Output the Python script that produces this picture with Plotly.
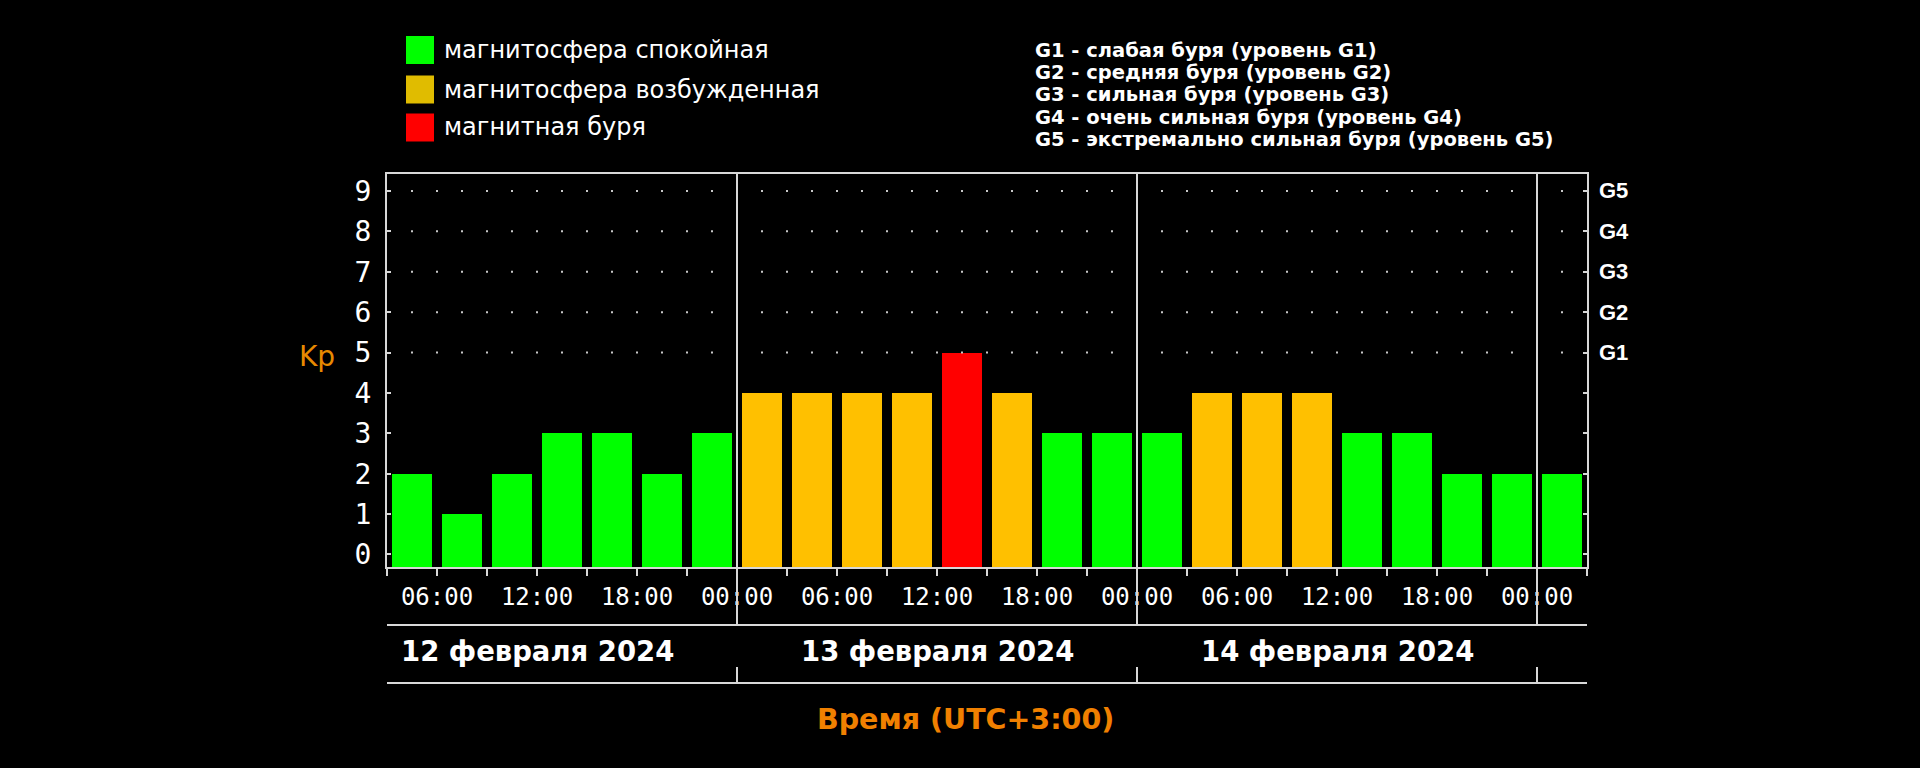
import plotly.graph_objects as go
import pandas as pd
import numpy as np

# ---------------- data ----------------
period_start = [
    "2024-02-12 03:00", "2024-02-12 06:00", "2024-02-12 09:00", "2024-02-12 12:00",
    "2024-02-12 15:00", "2024-02-12 18:00", "2024-02-12 21:00",
    "2024-02-13 00:00", "2024-02-13 03:00", "2024-02-13 06:00", "2024-02-13 09:00",
    "2024-02-13 12:00", "2024-02-13 15:00", "2024-02-13 18:00", "2024-02-13 21:00",
    "2024-02-14 00:00", "2024-02-14 03:00", "2024-02-14 06:00", "2024-02-14 09:00",
    "2024-02-14 12:00", "2024-02-14 15:00", "2024-02-14 18:00", "2024-02-14 21:00",
    "2024-02-15 00:00",
]
kp_values = [2, 1, 2, 3, 3, 2, 3,
             4, 4, 4, 4, 5, 4, 3, 3,
             3, 4, 4, 4, 3, 3, 2, 2,
             2]

day_boundaries = ["2024-02-13 00:00", "2024-02-14 00:00", "2024-02-15 00:00"]
day_label_pos = ["2024-02-12 12:00", "2024-02-13 12:00", "2024-02-14 12:00"]
day_labels = ["12 февраля 2024", "13 февраля 2024", "14 февраля 2024"]

g_levels = [5, 6, 7, 8, 9]
g_labels = ["G1", "G2", "G3", "G4", "G5"]
g_descriptions = [
    "G1 - слабая буря (уровень G1)",
    "G2 - средняя буря (уровень G2)",
    "G3 - сильная буря (уровень G3)",
    "G4 - очень сильная буря (уровень G4)",
    "G5 - экстремально сильная буря (уровень G5)",
]
legend_labels = ["магнитосфера спокойная", "магнитосфера возбужденная", "магнитная буря"]
legend_colors = ["#00FF00", "#E0BC00", "#FF0000"]

# ---------------- styling ----------------
BG = "#000000"
LINE = "#D8D8D8"
GREEN, YELLOW, RED = "#00FF00", "#FFC000", "#FF0000"
ORANGE = "#F08000"
X_START, X_END = "2024-02-12 03:00", "2024-02-15 03:00"
Y_MIN, Y_MAX = -0.31, 9.42

W, H = 1920, 768
L, R, T, B = 387, 333, 174, 201
PH = H - T - B
PW = W - L - R


def py(pix):  # pixel y -> paper y
    return (H - B - pix) / PH


def px(pix):  # pixel x -> paper x
    return (pix - L) / PW


def bar_color(v):
    if v >= 5:
        return RED
    if v == 4:
        return YELLOW
    return GREEN


slot_ms = 3 * 3600 * 1000
bar_w = 0.81 * slot_ms

fig = go.Figure()
fig.add_trace(go.Bar(
    x=period_start,
    y=[v - Y_MIN for v in kp_values],
    base=Y_MIN,
    width=bar_w,
    offset=(slot_ms - bar_w) / 2,
    marker=dict(color=[bar_color(v) for v in kp_values], line=dict(width=0)),
    hoverinfo="skip",
    showlegend=False,
))

# dotted grid above Kp 5
grid_times = pd.date_range(X_START, X_END, freq="90min")[1:-1]
grid_times = [t for t in grid_times if t.strftime("%Y-%m-%d %H:%M") not in day_boundaries]
gx, gy = [], []
for lvl in g_levels:
    for t in grid_times:
        gx.append(t)
        gy.append(lvl)
fig.add_trace(go.Scatter(
    x=gx, y=gy, mode="markers",
    marker=dict(symbol="square", size=2, color="#C8C8C8", line=dict(width=0)),
    hoverinfo="skip", showlegend=False,
))

# x ticks every 3 hours, labels every 6 hours
tick_times = pd.date_range(X_START, X_END, freq="3h")
tick_text = [t.strftime("%H:%M") if t.hour % 6 == 0 else "" for t in tick_times]

shapes = []
# day separators
for d in day_boundaries:
    shapes.append(dict(type="line", xref="x", yref="paper", x0=d, x1=d,
                       y0=py(625), y1=1, line=dict(color=LINE, width=2), layer="above"))
    shapes.append(dict(type="line", xref="x", yref="paper", x0=d, x1=d,
                       y0=py(683), y1=py(667), line=dict(color=LINE, width=2), layer="above"))
# horizontal rules around date row
for yy in (625, 683):
    shapes.append(dict(type="line", xref="paper", yref="paper", x0=0, x1=1,
                       y0=py(yy), y1=py(yy), line=dict(color=LINE, width=2), layer="above"))
# legend squares
sq_centers = [50, 89.5, 127.5]
for c, col in zip(sq_centers, legend_colors):
    shapes.append(dict(type="rect", xref="paper", yref="paper",
                       x0=px(406), x1=px(434), y0=py(c + 14), y1=py(c - 14),
                       fillcolor=col, line=dict(width=0)))

annotations = []
for lab, c in zip(legend_labels, sq_centers):
    annotations.append(dict(text=lab, xref="paper", yref="paper", x=px(442), y=py(c),
                            xanchor="left", yanchor="middle", showarrow=False,
                            font=dict(family="DejaVu Sans", size=24, color="#FFFFFF")))
g_line_centers = [50, 72.4, 94.8, 117.2, 139.6]
for txt, c in zip(g_descriptions, g_line_centers):
    annotations.append(dict(text=txt, xref="paper", yref="paper", x=px(1033), y=py(c),
                            xanchor="left", yanchor="middle", showarrow=False,
                            font=dict(family="DejaVu Sans", size=19.5, color="#FFFFFF",
                                      weight="bold")))
for lvl, lab in zip(g_levels, g_labels):
    annotations.append(dict(text=lab, xref="paper", yref="y", x=1, y=lvl,
                            xanchor="left", yanchor="middle", xshift=10, showarrow=False,
                            font=dict(family="Liberation Sans", size=22, color="#FFFFFF",
                                      weight="bold")))
for pos, lab in zip(day_label_pos, day_labels):
    annotations.append(dict(text=lab, xref="x", yref="paper", x=pos, y=py(651),
                            xanchor="center", yanchor="middle", showarrow=False,
                            font=dict(family="DejaVu Sans", size=27.5, color="#FFFFFF",
                                      weight="bold")))
annotations.append(dict(text="Время (UTC+3:00)", xref="paper", yref="paper",
                        x=px(965), y=py(719), xanchor="center", yanchor="middle",
                        showarrow=False,
                        font=dict(family="DejaVu Sans", size=28.5, color=ORANGE, weight="bold")))
annotations.append(dict(text="Kp", xref="paper", yref="y", x=px(317), y=4.9,
                        xanchor="center", yanchor="middle", showarrow=False,
                        font=dict(family="DejaVu Sans", size=28, color="#E88A00")))

fig.update_layout(
    width=W, height=H, autosize=False,
    margin=dict(l=L, r=R, t=T, b=B, pad=0),
    paper_bgcolor=BG, plot_bgcolor=BG,
    bargap=0, showlegend=False,
    shapes=shapes, annotations=annotations,
    xaxis=dict(
        type="date", range=[X_START, X_END],
        tickvals=list(tick_times), ticktext=tick_text,
        ticks="outside", ticklen=7, tickwidth=2, tickcolor=LINE,
        showline=True, linecolor=LINE, linewidth=2, mirror=True,
        showgrid=False, zeroline=False,
        tickfont=dict(family="DejaVu Sans Mono", size=24, color="#FFFFFF"),
        ticklabelstandoff=0,
        fixedrange=True,
    ),
    yaxis=dict(
        range=[Y_MIN, Y_MAX],
        tickvals=list(range(10)), ticktext=[str(i) for i in range(10)],
        ticks="inside", ticklen=4, tickwidth=2, tickcolor=LINE,
        showline=True, linecolor=LINE, linewidth=2, mirror="ticks",
        showgrid=False, zeroline=False,
        tickfont=dict(family="DejaVu Sans Mono", size=28, color="#FFFFFF"),
        ticklabelstandoff=8,
        fixedrange=True,
    ),
)

fig.write_html("out.html")
